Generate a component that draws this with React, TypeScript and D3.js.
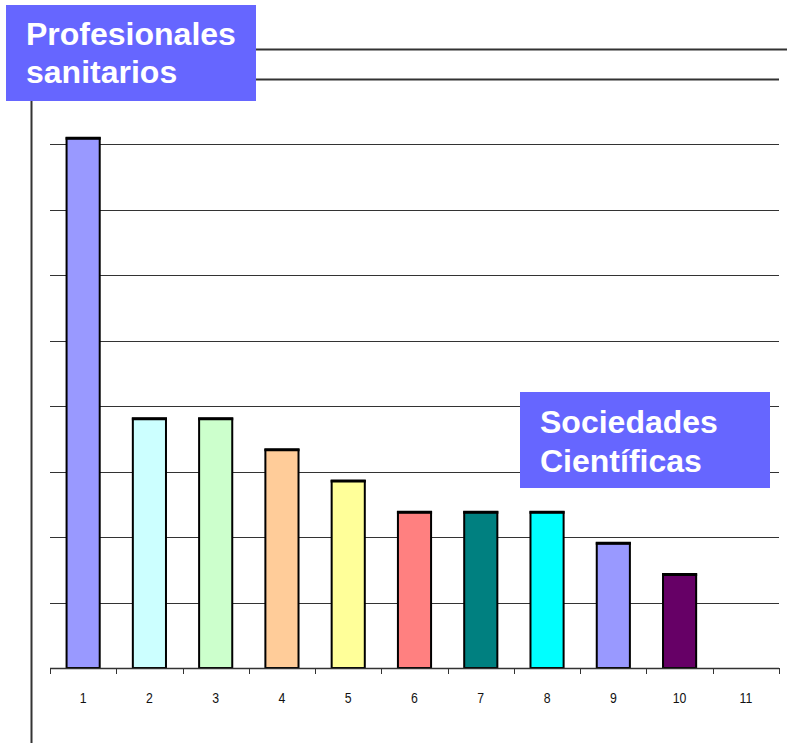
import * as d3 from "d3";
import { useEffect, useRef } from "react";

const categories = ["1", "2", "3", "4", "5", "6", "7", "8", "9", "10", "11"];
const counts = [17, 8, 8, 7, 6, 5, 5, 5, 4, 3, 0];
const barColors = [
  "#9999FF", "#CCFFFF", "#CCFFCC", "#FFCC99", "#FFFF99",
  "#FF8080", "#008080", "#00FFFF", "#9999FF", "#660066", "#FFFFFF",
];
const gridStep = 2.1;
const gridCount = 9;
const titleLines = ["Profesionales", "sanitarios"];
const noteLines = ["Sociedades", "Científicas"];

export default function App() {
  const svgRef = useRef<SVGSVGElement>(null);
  const width = 787;
  const height = 743;

  useEffect(() => {
    const svg = d3.select(svgRef.current);
    svg.selectAll("*").remove();

    const x = d3.scaleBand<string>().domain(categories).range([50, 779]).padding(0);
    const y = d3.scaleLinear().domain([0, gridStep * gridCount]).range([668, 79]);
    const font = "Arial, 'Liberation Sans', sans-serif";

    // decoration line on top
    svg.append("line")
      .attr("x1", 256).attr("x2", 787)
      .attr("y1", 49.5).attr("y2", 49.5)
      .attr("stroke", "#333").attr("stroke-width", 2);

    // gridlines
    const ticks = d3.range(1, gridCount + 1).map(i => i * gridStep);
    svg.append("g")
      .selectAll("line")
      .data(ticks)
      .enter()
      .append("line")
      .attr("x1", 50).attr("x2", 779)
      .attr("y1", d => Math.round(y(d)) + 0.5)
      .attr("y2", d => Math.round(y(d)) + 0.5)
      .attr("stroke", "#333")
      .attr("stroke-width", (d, i) => (i === gridCount - 1 ? 2 : 1));

    // vertical line on left
    svg.append("line")
      .attr("x1", 31.5).attr("x2", 31.5)
      .attr("y1", 100).attr("y2", 743)
      .attr("stroke", "#333").attr("stroke-width", 2);

    // bars
    const bw = x.bandwidth() * 0.5;
    const barData = counts.map((v, i) => ({ v, i })).filter(d => d.v > 0);
    const bars = svg.append("g");
    bars.selectAll("rect")
      .data(barData)
      .enter()
      .append("rect")
      .attr("x", d => x(categories[d.i])! + (x.bandwidth() - bw) / 2)
      .attr("y", d => y(d.v))
      .attr("width", bw)
      .attr("height", d => y(0) - y(d.v))
      .attr("fill", d => barColors[d.i])
      .attr("stroke", "#000")
      .attr("stroke-width", 2);
    // thicker top edge
    bars.selectAll("line")
      .data(barData)
      .enter()
      .append("line")
      .attr("x1", d => x(categories[d.i])! + (x.bandwidth() - bw) / 2 - 1)
      .attr("x2", d => x(categories[d.i])! + (x.bandwidth() + bw) / 2 + 1)
      .attr("y1", d => y(d.v))
      .attr("y2", d => y(d.v))
      .attr("stroke", "#000")
      .attr("stroke-width", 3);

    // x axis
    const axis = svg.append("g");
    axis.append("line")
      .attr("x1", 50).attr("x2", 779)
      .attr("y1", 668.5).attr("y2", 668.5)
      .attr("stroke", "#333").attr("stroke-width", 1.5);
    const bounds = categories.map(c => x(c)!).concat([779]);
    axis.selectAll("line.tick")
      .data(bounds)
      .enter()
      .append("line")
      .attr("class", "tick")
      .attr("x1", d => Math.round(d) + 0.5)
      .attr("x2", d => Math.round(d) + 0.5)
      .attr("y1", 668).attr("y2", 674)
      .attr("stroke", "#333");
    axis.selectAll("text")
      .data(categories)
      .enter()
      .append("text")
      .attr("transform", d => `translate(${x(d)! + x.bandwidth() / 2},703) scale(0.82,1)`)
      .attr("text-anchor", "middle")
      .style("font-family", font)
      .style("font-size", "15px")
      .attr("fill", "#111")
      .text(d => d);

    // label boxes
    const drawBox = (bx: number, by: number, lines: string[], tx: number, baselines: number[]) => {
      svg.append("rect")
        .attr("x", bx).attr("y", by)
        .attr("width", 250).attr("height", 96)
        .attr("fill", "#6666FF");
      svg.append("g")
        .selectAll("text")
        .data(lines)
        .enter()
        .append("text")
        .attr("x", tx)
        .attr("y", (d, i) => baselines[i])
        .attr("fill", "#fff")
        .style("font-family", font)
        .style("font-weight", "bold")
        .style("font-size", "32px")
        .text(d => d);
    };
    drawBox(6, 5, titleLines, 26, [45, 83]);
    drawBox(520, 392, noteLines, 540, [433, 472]);

    return () => {};
  }, []);

  return (
    <div style={{ position: "absolute", left: 0, top: 0, background: "#fff" }}>
      <svg ref={svgRef} width={width} height={height} style={{ display: "block" }}></svg>
    </div>
  );
}
